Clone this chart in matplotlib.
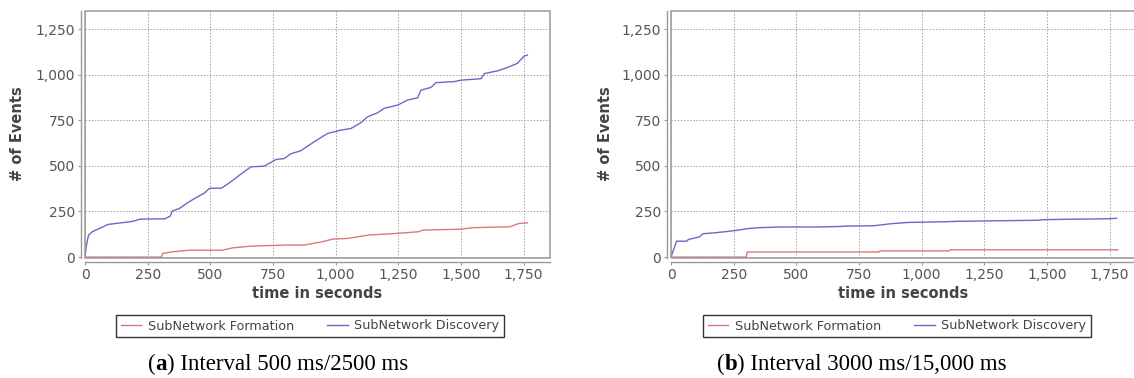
import matplotlib
matplotlib.use("Agg")
import matplotlib.pyplot as plt
from matplotlib.patches import Rectangle
from matplotlib.ticker import FuncFormatter, MultipleLocator

# ---- data ----
a_disc_t = [0, 5, 14, 30, 50, 92, 157, 191, 220, 320, 340, 348, 377, 405, 430, 455, 475, 497,
            545, 582, 622, 662, 714, 762, 794, 821, 861, 914, 968, 1021, 1061, 1100, 1127,
            1167, 1193, 1247, 1287, 1327, 1340, 1380, 1400, 1473, 1500, 1580, 1593, 1646,
            1686, 1725, 1752, 1765]
a_disc_v = [0, 60, 120, 140, 152, 179, 190, 196, 208, 210, 225, 252, 267, 294, 315, 335, 350, 377,
            378, 413, 455, 495, 498, 535, 540, 566, 583, 632, 678, 696, 705, 736, 769,
            791, 815, 833, 861, 873, 915, 930, 956, 962, 970, 978, 1006, 1021,
            1040, 1062, 1102, 1107]
a_form_t = [0, 305, 309, 349, 420, 548, 591, 662, 804, 876, 946, 990, 1046, 1132, 1245, 1332,
            1346, 1502, 1545, 1695, 1730, 1765]
a_form_v = [0, 0, 20, 29, 38, 38, 51, 60, 66, 66, 84, 99, 102, 121, 130, 139,
            148, 153, 161, 166, 184, 188]

b_disc_t = [0, 22, 62, 69, 113, 128, 172, 216, 260, 304, 349, 437, 584, 678, 701, 811, 878, 947,
            1099, 1140, 1466, 1481, 1613, 1641, 1731, 1749, 1778]
b_disc_v = [0, 87, 87, 96, 111, 128, 133, 139, 146, 156, 161, 165, 165, 168, 170, 172, 183, 190,
            194, 196, 202, 205, 208, 208, 210, 210, 213]
b_form_t = [0, 300, 304, 830, 834, 1110, 1115, 1782]
b_form_v = [0, 0, 28, 28, 34, 34, 40, 40]

series_names = ["SubNetwork Formation", "SubNetwork Discovery"]
x_label = "time in seconds"
y_label = "# of Events"
captions = [("a", " Interval 500 ms/2500 ms"), ("b", " Interval 3000 ms/15,000 ms")]

RED = "#d67a7a"
BLUE = "#6a6ac4"
GRID = "#a8a8a8"
OUTLINE = "#9a9a9a"
TXT = "#555555"
LBL = "#444444"

W, H = 1134, 378
fig = plt.figure(figsize=(W / 100, H / 100), dpi=100)


def px_rect(left, top, right, bottom):
    return [left / W, 1 - bottom / H, (right - left) / W, (bottom - top) / H]


axes_px = [(85, 11, 550, 258), (671, 11, 1136, 258)]
data = [(a_form_t, a_form_v, a_disc_t, a_disc_v), (b_form_t, b_form_v, b_disc_t, b_disc_v)]
legend_px = [(118, 314, 502, 338), (705, 314, 1089, 338)]
caption_x = [148, 717]
ylabel_x = [18, 605]

fmt = FuncFormatter(lambda v, p: f"{int(round(v)):,}")

for i in range(2):
    ax = fig.add_axes(px_rect(*axes_px[i]))
    ft, fv, dt, dv = data[i]
    l1, = ax.plot(ft, fv, color=RED, lw=1.0, zorder=3)
    l2, = ax.plot(dt, dv, color=BLUE, lw=1.0, zorder=3)
    ax.set_xlim(0, 1855)
    ax.set_ylim(-5, 1349)
    ax.xaxis.set_major_locator(MultipleLocator(250))
    ax.yaxis.set_major_locator(MultipleLocator(250))
    ax.xaxis.set_major_formatter(fmt)
    ax.yaxis.set_major_formatter(fmt)
    ax.grid(True, color=GRID, lw=0.7, linestyle=(0, (1.6, 1.6)))
    for s in ["top", "right"]:
        ax.spines[s].set_visible(False)
    for s in ["left", "bottom"]:
        ax.spines[s].set_position(("outward", 3))
        ax.spines[s].set_color(OUTLINE)
        ax.spines[s].set_linewidth(1.0)
    ax.add_patch(Rectangle((0, 0), 1, 1, transform=ax.transAxes, fill=False,
                           edgecolor=OUTLINE, lw=1.1, clip_on=False, zorder=4))
    ax.tick_params(axis="both", length=2, width=0.8, color=OUTLINE, labelcolor=TXT,
                   labelsize=10, pad=2)
    ax.set_xlabel(x_label, fontsize=10.5, fontweight="bold", color=LBL, labelpad=3)
    fig.text(ylabel_x[i] / W, 1 - 134 / H, y_label, rotation=90, ha="center", va="center",
             fontsize=10.5, fontweight="bold", color=LBL)

    # legend box
    lx0, ly0, lx1, ly1 = legend_px[i]
    leg = fig.legend([l1, l2], series_names, loc="center",
                     bbox_to_anchor=((lx0 + lx1) / 2 / W, 1 - (ly0 + ly1) / 2 / H),
                     ncol=2, frameon=True, fancybox=False, fontsize=9.2,
                     handlelength=1.6, handletextpad=0.5, columnspacing=2.6,
                     borderpad=0.35, labelcolor=LBL)
    leg.get_frame().set_edgecolor("black")
    leg.get_frame().set_linewidth(1.0)

    # caption with bold letter
    r = fig.canvas.get_renderer()
    cy = 1 - 370 / H
    x = caption_x[i] / W
    parts = [("(", "normal"), (captions[i][0], "bold"), (")" + captions[i][1], "normal")]
    for txt, wt in parts:
        t = fig.text(x, cy, txt, fontsize=16.5, fontweight=wt, family="Liberation Serif",
                     color="black", va="baseline", ha="left")
        x += t.get_window_extent(r).width / W

fig.savefig("out.png", dpi=100)
